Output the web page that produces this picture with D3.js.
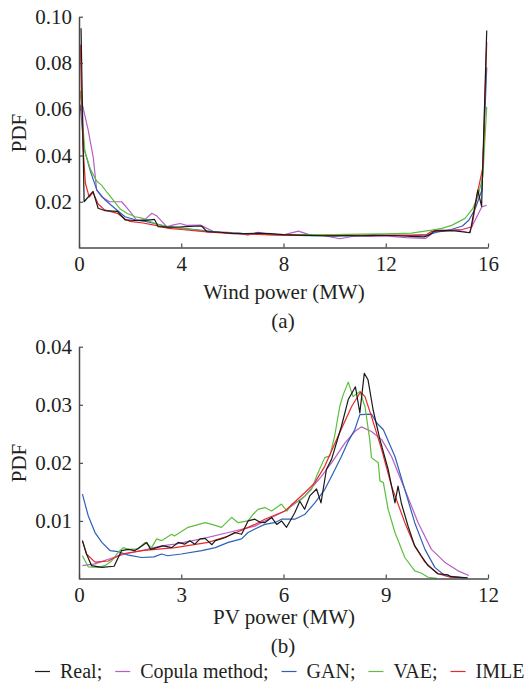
<!DOCTYPE html>
<html>
<head>
<meta charset="utf-8">
<script src="https://cdn.jsdelivr.net/npm/d3@7"></script>
<style>
  html, body { margin: 0; padding: 0; background: #fff; }
  svg { display: block; }
</style>
</head>
<body>
<svg id="chart" width="530" height="687"></svg>
<script>
// ---------- DATA ----------
const seriesNames = ["Real", "Copula method", "GAN", "VAE", "IMLE"];
const seriesColors = ["#1a1a1a", "#b65fc4", "#2f5fb7", "#5cbf3d", "#e8282b"];

// (a) wind power PDF, [MW, PDF]
const windReal = [[0.08,0.095],[0.2,0.020],[0.55,0.0245],[0.75,0.0172],[1.0,0.0162],[1.5,0.0158],[1.8,0.0122],[2.2,0.0119],[2.5,0.0118],[2.95,0.0124],[3.1,0.0092],[3.5,0.0090],[4.0,0.0091],[4.5,0.0094],[4.8,0.0095],[5.0,0.0071],[5.5,0.0068],[6.0,0.0063],[6.5,0.0062],[7.0,0.0064],[7.5,0.0062],[8.0,0.0058],[8.5,0.0056],[9.0,0.0055],[9.5,0.0053],[10,0.0052],[10.5,0.0054],[11,0.0053],[11.5,0.0055],[12,0.0054],[12.5,0.0053],[13,0.0050],[13.5,0.0048],[13.7,0.0056],[13.9,0.0074],[14.3,0.0075],[14.7,0.0074],[15.3,0.0066],[15.6,0.025],[15.75,0.018],[15.95,0.094]];
const windCopula = [[0.05,0.066],[0.36,0.051],[0.56,0.039],[0.69,0.025],[0.9,0.022],[1.2,0.020],[1.67,0.020],[2.0,0.0157],[2.26,0.012],[2.6,0.0125],[2.85,0.015],[3.05,0.0138],[3.43,0.0092],[3.7,0.0100],[3.96,0.0106],[4.2,0.0098],[4.75,0.0099],[5.26,0.0071],[5.8,0.0068],[6.3,0.0064],[6.6,0.0056],[7.0,0.0068],[7.4,0.0060],[8.0,0.0057],[8.58,0.0073],[9.0,0.0058],[9.5,0.0055],[10.2,0.0040],[10.8,0.0052],[11.4,0.0050],[12.0,0.0052],[12.8,0.0045],[13.3,0.0043],[13.55,0.0041],[14.0,0.0077],[14.8,0.0077],[15.25,0.0066],[15.76,0.0178],[15.95,0.0185]];
const windGAN = [[0.05,0.062],[0.2,0.043],[0.45,0.033],[0.7,0.025],[1.0,0.021],[1.4,0.0172],[1.8,0.0135],[2.2,0.0122],[2.6,0.0115],[3.0,0.0105],[3.5,0.0090],[4.0,0.0086],[4.5,0.0080],[5.0,0.0074],[5.5,0.0068],[6.0,0.0064],[7,0.0060],[8,0.0056],[9,0.0053],[10,0.0052],[11,0.0053],[12,0.0054],[13,0.0054],[13.6,0.0056],[14.0,0.0068],[14.5,0.0078],[15.0,0.0095],[15.25,0.012],[15.5,0.017],[15.76,0.025],[15.95,0.078]];
const windVAE = [[0.05,0.068],[0.23,0.0416],[0.45,0.034],[0.69,0.029],[0.88,0.0272],[1.1,0.024],[1.34,0.0207],[1.6,0.017],[1.87,0.015],[2.2,0.0135],[2.5,0.0128],[3.0,0.0105],[3.5,0.0092],[4.0,0.0085],[4.5,0.0078],[5.0,0.0072],[5.5,0.0068],[6.0,0.0064],[7,0.0059],[8,0.0057],[9,0.0058],[10,0.0058],[11,0.0060],[12,0.0061],[13,0.0064],[13.8,0.0077],[14.2,0.0085],[14.6,0.0099],[15.1,0.0128],[15.4,0.017],[15.6,0.022],[15.8,0.031],[15.95,0.061]];
const windIMLE = [[0.05,0.088],[0.15,0.045],[0.25,0.028],[0.4,0.022],[0.55,0.024],[0.75,0.019],[1.0,0.0165],[1.5,0.015],[1.8,0.0125],[2.0,0.0115],[2.5,0.0108],[3.0,0.0098],[3.5,0.0085],[4.0,0.0080],[5.0,0.0070],[6.0,0.0062],[7,0.0059],[8,0.0056],[9,0.0054],[10,0.0054],[11,0.0055],[12,0.0056],[13,0.0056],[13.6,0.0058],[13.8,0.0072],[14.5,0.0076],[15.0,0.0080],[15.37,0.0092],[15.6,0.0245],[15.8,0.035],[15.95,0.089]];

// (b) PV power PDF, [MW, PDF]
const pvReal = [[0.1,0.0066],[0.22,0.0043],[0.37,0.0023],[0.67,0.0020],[1.03,0.0022],[1.25,0.0049],[1.45,0.0051],[1.64,0.0049],[1.84,0.0057],[1.99,0.0063],[2.1,0.0051],[2.28,0.0054],[2.47,0.0057],[2.72,0.0054],[2.91,0.0063],[3.1,0.0060],[3.25,0.0066],[3.4,0.0060],[3.55,0.0069],[3.7,0.0070],[3.9,0.0059],[4.0,0.0066],[4.28,0.0071],[4.57,0.0080],[4.77,0.0077],[4.96,0.0100],[5.16,0.0103],[5.3,0.0098],[5.45,0.0097],[5.65,0.0106],[5.8,0.0094],[5.94,0.0100],[6.09,0.0089],[6.33,0.0114],[6.48,0.0134],[6.62,0.0120],[6.77,0.0143],[6.97,0.0155],[7.1,0.0131],[7.26,0.0189],[7.41,0.0206],[7.7,0.0263],[7.9,0.0309],[8.11,0.0331],[8.24,0.0286],[8.37,0.0354],[8.48,0.0343],[8.63,0.0291],[8.83,0.0240],[9.07,0.0189],[9.27,0.0131],[9.36,0.0160],[9.46,0.0130],[9.66,0.0090],[9.85,0.0057],[10.04,0.0040],[10.24,0.0023],[10.53,0.0009],[10.83,0.0007],[10.9,0.0004],[11.4,0.0002]];
const pvCopula = [[0.1,0.0023],[0.47,0.0026],[0.86,0.0034],[1.35,0.0043],[1.84,0.0049],[2.42,0.0057],[2.82,0.0060],[3.6,0.0069],[4.38,0.0080],[5.16,0.0091],[5.45,0.0100],[6.04,0.0117],[6.63,0.0143],[7.12,0.0177],[7.41,0.0200],[7.8,0.0234],[8.09,0.0254],[8.29,0.0262],[8.58,0.0254],[8.88,0.0240],[9.17,0.0211],[9.56,0.0154],[9.95,0.0097],[10.34,0.0051],[10.73,0.0029],[11.12,0.0014],[11.44,0.0006]];
const pvGAN = [[0.1,0.0146],[0.27,0.0109],[0.47,0.0080],[0.67,0.0063],[0.91,0.0049],[1.15,0.0047],[1.45,0.0041],[1.84,0.0037],[2.2,0.0038],[2.42,0.0043],[2.6,0.0040],[3.0,0.0043],[3.6,0.0049],[4.0,0.0054],[4.38,0.0063],[4.77,0.0069],[4.96,0.0080],[5.16,0.0086],[5.45,0.0094],[5.74,0.0097],[5.94,0.0103],[6.33,0.0103],[6.62,0.0111],[6.92,0.0131],[7.21,0.0154],[7.41,0.0177],[7.7,0.0211],[7.9,0.0237],[8.09,0.0257],[8.24,0.0283],[8.58,0.0284],[8.73,0.0269],[8.93,0.0257],[9.27,0.0211],[9.56,0.0154],[9.85,0.0097],[10.15,0.0051],[10.44,0.0020],[10.73,0.0006],[11.3,0.0002]];
const pvVAE = [[0.1,0.0040],[0.27,0.0021],[0.57,0.0020],[0.76,0.0023],[0.96,0.0031],[1.15,0.0046],[1.3,0.0054],[1.45,0.0051],[1.74,0.0052],[1.94,0.0063],[2.13,0.0054],[2.28,0.0069],[2.42,0.0066],[2.72,0.0077],[2.8,0.0074],[3.2,0.0089],[3.7,0.0097],[3.9,0.0094],[4.18,0.0089],[4.48,0.0106],[4.67,0.0097],[4.96,0.0100],[5.1,0.0111],[5.25,0.0120],[5.45,0.0123],[5.65,0.0117],[5.94,0.0129],[6.1,0.0117],[6.25,0.0129],[6.53,0.0137],[6.82,0.0154],[6.97,0.0177],[7.21,0.0209],[7.36,0.0212],[7.5,0.0246],[7.65,0.0297],[7.75,0.0317],[7.9,0.0339],[8.04,0.0314],[8.24,0.0323],[8.39,0.0297],[8.53,0.0240],[8.58,0.0209],[8.78,0.0200],[8.83,0.0169],[8.93,0.0166],[9.07,0.0120],[9.27,0.0080],[9.56,0.0037],[9.85,0.0014],[10.05,0.0010],[10.24,0.0003],[10.5,0.0001]];
const pvIMLE = [[0.1,0.0066],[0.22,0.0043],[0.47,0.0029],[0.86,0.0031],[1.25,0.0043],[1.84,0.0049],[2.82,0.0054],[3.79,0.0063],[4.38,0.0074],[5.16,0.0094],[5.45,0.0103],[6.04,0.0117],[6.63,0.0149],[6.92,0.0166],[7.21,0.0194],[7.6,0.0246],[8.0,0.0297],[8.26,0.0322],[8.39,0.0314],[8.58,0.0280],[8.88,0.0223],[9.17,0.0160],[9.56,0.0097],[9.85,0.0057],[10.15,0.0029],[10.53,0.0009],[10.9,0.0003],[11.4,0.0002]];

const windXTicks = [0, 4, 8, 12, 16];
const windYTicks = [0.02, 0.04, 0.06, 0.08, 0.10];
const pvXTicks = [0, 3, 6, 9, 12];
const pvYTicks = [0.01, 0.02, 0.03, 0.04];

// ---------- FONT PICK (first installed serif) ----------
function pickFont(cands) {
  const ctx = document.createElement("canvas").getContext("2d");
  const sample = "Wind power (MW) 0.10 Copula method";
  for (const base of ["monospace", "sans-serif"]) {
    ctx.font = "40px " + base;
    const w0 = ctx.measureText(sample).width;
    for (const c of cands) {
      ctx.font = `40px "${c}", ${base}`;
      if (Math.abs(ctx.measureText(sample).width - w0) > 0.5) return `"${c}", serif`;
    }
  }
  return "serif";
}
const FAMILY = pickFont(["Liberation Serif", "Times New Roman", "Tinos", "Times", "Nimbus Roman", "Noto Serif", "DejaVu Serif", "FreeSerif"]);

// ---------- DRAW ----------
const svg = d3.select("#chart");
const FONT = 21;
const AXIS_COLOR = "#4a4a4a";
const TEXT_COLOR = "#231f20";

function panel(opts) {
  const x = d3.scaleLinear().domain(opts.xDomain).range([79, 488]);
  const y = d3.scaleLinear().domain(opts.yDomain).range(opts.yRange);
  const g = svg.append("g");

  const line = d3.line().x(d => x(d[0])).y(d => y(d[1]));
  const order = [1, 2, 3, 4, 0];
  order.forEach(i => {
    g.append("path")
      .datum(opts.series[i])
      .attr("fill", "none")
      .attr("stroke", seriesColors[i])
      .attr("stroke-width", 1.2)
      .attr("stroke-linejoin", "round")
      .attr("d", line);
  });

  const xAxis = d3.axisBottom(x).tickValues(opts.xTicks).tickFormat(d3.format("d"))
    .tickSizeInner(-4).tickSizeOuter(0).tickPadding(9);
  const gx = g.append("g").attr("transform", `translate(0,${opts.yRange[0] - 0.5})`).call(xAxis);
  const yAxis = d3.axisLeft(y).tickValues(opts.yTicks).tickFormat(d3.format(".2f"))
    .tickSizeInner(-4).tickSizeOuter(0).tickPadding(7);
  const gy = g.append("g").attr("transform", "translate(79,0)").call(yAxis);
  [gx, gy].forEach(a => {
    a.attr("font-family", FAMILY).attr("font-size", FONT);
    a.select(".domain").attr("stroke", AXIS_COLOR).attr("stroke-width", 1.5);
    a.selectAll(".tick line").attr("stroke", AXIS_COLOR).attr("stroke-width", 1.2);
    a.selectAll(".tick text").attr("fill", TEXT_COLOR);
  });

  const txt = (sel) => sel.attr("font-family", FAMILY).attr("font-size", FONT).attr("fill", TEXT_COLOR);
  g.append("text").attr("x", 284).attr("y", opts.xLabelY).attr("text-anchor", "middle").call(txt).text(opts.xLabel);
  g.append("text").attr("x", 283).attr("y", opts.capY).attr("text-anchor", "middle").call(txt).text(opts.caption);
  g.append("text").attr("transform", `translate(26,${opts.yLabelY}) rotate(-90)`)
    .attr("text-anchor", "middle").call(txt).text("PDF");
}

panel({
  xDomain: [0, 16], yDomain: [0, 0.1], yRange: [248, 16.7],
  series: [windReal, windCopula, windGAN, windVAE, windIMLE],
  xTicks: windXTicks, yTicks: windYTicks,
  xLabel: "Wind power (MW)", xLabelY: 299, caption: "(a)", capY: 328, yLabelY: 133
});
panel({
  xDomain: [0, 12], yDomain: [0, 0.04], yRange: [579, 346.7],
  series: [pvReal, pvCopula, pvGAN, pvVAE, pvIMLE],
  xTicks: pvXTicks, yTicks: pvYTicks,
  xLabel: "PV power (MW)", xLabelY: 624, caption: "(b)", capY: 653, yLabelY: 463
});

// legend
const leg = svg.append("g");
let lx = 35;
const legY = 678;
seriesNames.forEach((name, i) => {
  leg.append("line").attr("x1", lx).attr("x2", lx + 15).attr("y1", legY - 6.5).attr("y2", legY - 6.5)
    .attr("stroke", seriesColors[i]).attr("stroke-width", 1.2);
  lx += 25;
  const label = name + (i < seriesNames.length - 1 ? ";" : "");
  const t = leg.append("text").attr("x", lx).attr("y", legY)
    .attr("font-family", FAMILY).attr("font-size", 20).attr("fill", TEXT_COLOR).text(label);
  lx += t.node().getComputedTextLength() + 13;
});
</script>
</body>
</html>
